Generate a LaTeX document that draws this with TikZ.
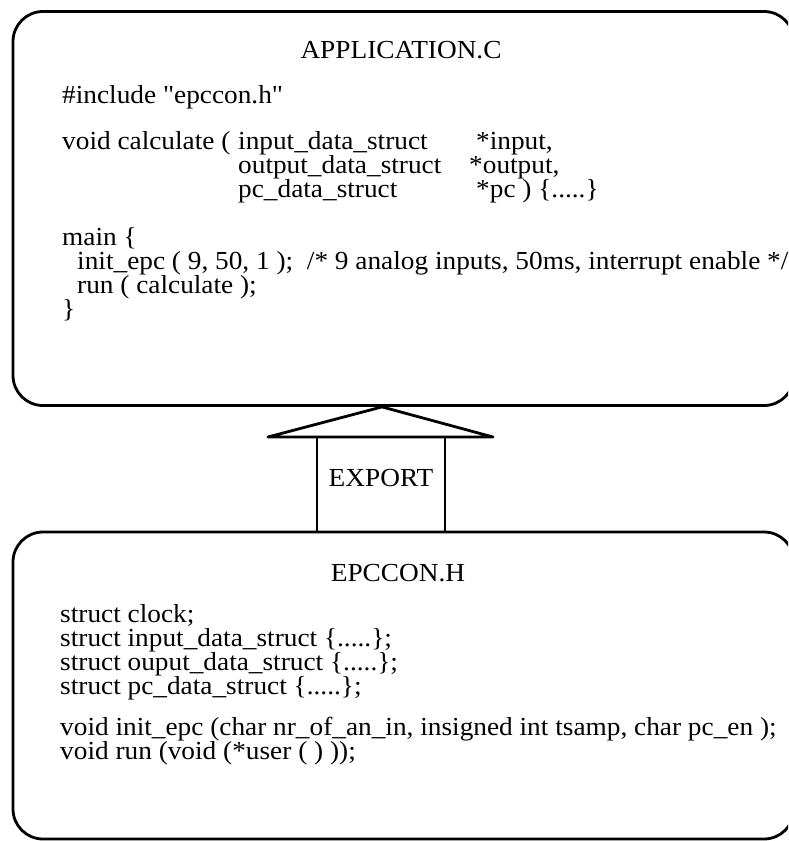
\documentclass[tikz,border=0pt]{standalone}
\usepackage{fontspec}
\setmainfont{Liberation Serif}[FakeStretch=1.05, Ligatures=TeXOff]
\newcommand{\dq}{\symbol{34}}
\begin{document}
\begin{tikzpicture}[x=1pt, y=-1pt, line join=round,
  filebox/.style={draw, line width=2.8pt, rounded corners=30pt, minimum width=781pt, inner sep=0pt},
  code/.style={anchor=base west, inner sep=0pt, font=\fontsize{26}{24}\selectfont},
  heading/.style={anchor=base, inner sep=0pt, font=\fontsize{26}{24}\selectfont},
  arrowline/.style={line width=2.8pt},
  stemline/.style={line width=2.3pt}]
\useasboundingbox (0,0) rectangle (788,841);
\clip (0,0) rectangle (788,841);

% the two source files
\node[filebox, minimum height=394pt] (app) at (403.5,208.5) {};
\node[filebox, minimum height=307pt] (hdr) at (403.5,685.5) {};

% APPLICATION.C
\node[heading] (apptitle) at (401,58) {APPLICATION.C};
\node[code] (inc) at (62,103) {\#include \dq epccon.h\dq};
\node[code] (calc) at (62,149) {void calculate (};
\node[code] (t1) at (238,149) {input\_data\_struct};
\node[code] (t2) at (238,173) {output\_data\_struct};
\node[code] (t3) at (238,197) {pc\_data\_struct};
\node[code] (a1) at (476,149) {*input,};
\node[code] (a2) at (469,173) {*output,};
\node[code] (a3) at (476,197) {*pc ) \{.....\}};
\node[code] (m0) at (62,245) {main \{};
\node[code] (m1) at (77,269) {init\_epc ( 9, 50, 1 );\ \ /* 9 analog inputs, 50ms, interrupt enable */};
\node[code] (m2) at (77,293) {run ( calculate );};
\node[code] (m3) at (62,317) {\}};

% EPCCON.H
\node[heading] (hdrtitle) at (398,581) {EPCCON.H};
\node[code] (h1) at (60,622) {struct clock;};
\node[code] (h2) at (60,646) {struct input\_data\_struct \{.....\};};
\node[code] (h3) at (60,670) {struct ouput\_data\_struct \{.....\};};
\node[code] (h4) at (60,694) {struct pc\_data\_struct \{.....\};};
\node[code] (h5) at (60,735) {void init\_epc (char nr\_of\_an\_in, insigned int tsamp, char pc\_en );};
\node[code] (h6) at (60,759) {void run (void (*user ( ) ));};

% EXPORT arrow from the header up to the application
\coordinate (tip) at (app.south -| 382,0);
\coordinate (stemL) at (hdr.north -| 317,0);
\coordinate (stemR) at (hdr.north -| 445,0);
\draw[arrowline] (tip) -- (268,437) -- (493,437) -- cycle;
\draw[stemline] (stemL) -- (317,437);
\draw[stemline] (stemR) -- (445,437);
\node[heading] (export) at (381,486) {EXPORT};
\end{tikzpicture}
\end{document}
